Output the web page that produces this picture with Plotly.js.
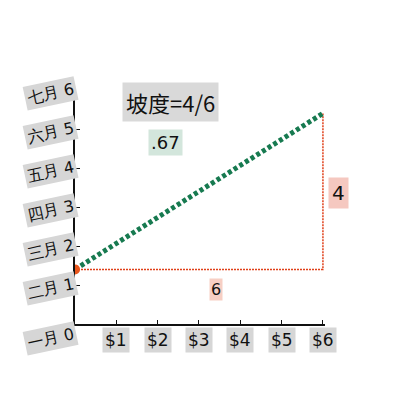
<!DOCTYPE html>
<html>
<head>
<meta charset="utf-8">
<script src="https://cdn.plot.ly/plotly-3.0.1.min.js"></script>
<style>html,body{margin:0;padding:0;background:#fff}</style>
</head>
<body>
<div id="chart" style="width:400px;height:400px"></div>
<script>
// slope line: start and end
let lineX = [0, 6]
let lineY = [1.4, 5.4]

// run / rise guide
let runX = [0, 6, 6]
let runY = [1.4, 1.4, 5.4]

let yTickVals = [0, 1, 2, 3, 4, 5, 6]
let yTickText = ["一月 0", "二月 1", "三月 2", "四月 3", "五月 4", "六月 5", "七月 6"]
let xTickVals = [1, 2, 3, 4, 5, 6]
let xTickText = ["$1", "$2", "$3", "$4", "$5", "$6"]

let runLabel = "6"
let riseLabel = "4"
let slopeTitle = "坡度=4/6"
let slopeValue = ".67"

let font = "DejaVu Sans, Arial, sans-serif"

let annotations = []

yTickVals.forEach((v, i) => {
annotations.push({
x: -0.1, xref: "paper", y: v, yref: "y",
text: yTickText[i], showarrow: false, textangle: -12,
xanchor: "center", yanchor: "middle",
yshift: i == 0 ? -14 : -3,
bgcolor: "#d6d6d6", borderpad: 2,
font: {family: font, size: 16, color: "#111"}
})
})

xTickVals.forEach((v, i) => {
annotations.push({
x: v, xref: "x", y: 0, yref: "paper", yshift: -16,
text: xTickText[i], showarrow: false,
xanchor: "center", yanchor: "middle",
bgcolor: "#d6d6d6", borderpad: 2,
font: {family: font, size: 17, color: "#111"}
})
})

annotations.push({
x: 3.4, y: runY[0], yshift: -20, text: runLabel, showarrow: false,
bgcolor: "#f7cfc4", borderpad: 1,
font: {family: font, size: 16, color: "#111"}
})
annotations.push({
x: 6, xshift: 16, y: 3.35, text: riseLabel, showarrow: false,
bgcolor: "#f5c8c0", borderpad: 3,
font: {family: font, size: 20, color: "#111"}
})
annotations.push({
x: 2.3, y: 5.7, text: slopeTitle, showarrow: false,
bgcolor: "#d9d9d9", borderpad: 3,
font: {family: "Noto Sans CJK SC, sans-serif", size: 22, color: "#111"}
})
annotations.push({
x: 2.2, y: 4.65, text: slopeValue, showarrow: false,
bgcolor: "#d3e6dc", borderpad: 2,
font: {family: font, size: 18, color: "#111"}
})

let traces = [
{
x: runX, y: runY, mode: "lines", hoverinfo: "skip",
line: {color: "#e0401a", width: 1.5, dash: "2px,1px"}
},
{
x: lineX, y: lineY, mode: "lines", hoverinfo: "skip",
line: {color: "#177a50", width: 5, dash: "4px,2.7px"}
},
{
x: [lineX[0]], y: [lineY[0]], mode: "markers", hoverinfo: "skip",
marker: {color: "#e8561c", size: 10}
}
]

let layout = {
width: 400, height: 400,
margin: {l: 75, r: 75, t: 90, b: 76},
showlegend: false,
paper_bgcolor: "#fff", plot_bgcolor: "#fff",
xaxis: {
range: [0, 6.05], showgrid: false, zeroline: false,
showline: true, linecolor: "#111", linewidth: 2,
ticks: "inside", ticklen: 4, tickcolor: "#111",
tickvals: xTickVals, showticklabels: false
},
yaxis: {
range: [0, 6], showgrid: false, zeroline: false,
showline: true, linecolor: "#111", linewidth: 2,
ticks: "inside", ticklen: 5, tickcolor: "#111",
tickvals: yTickVals, showticklabels: false
},
annotations: annotations
}

Plotly.newPlot("chart", traces, layout, {displayModeBar: false, staticPlot: true})
</script>
</body>
</html>
